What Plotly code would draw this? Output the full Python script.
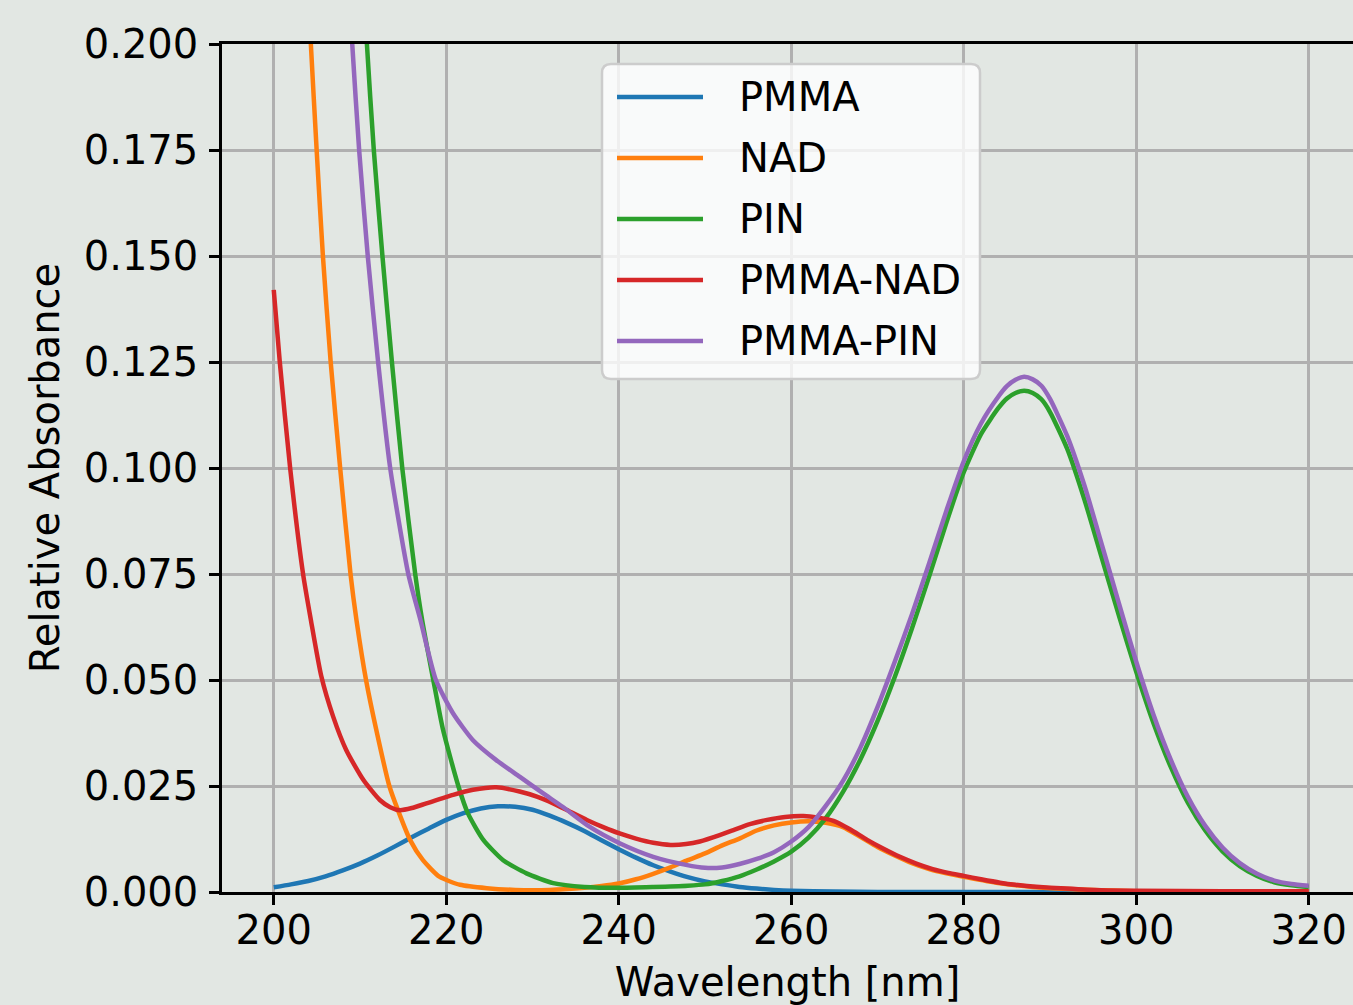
import plotly.graph_objects as go

# ---------------- data ----------------
series_names = ["PMMA", "NAD", "PIN", "PMMA-NAD", "PMMA-PIN"]
series_colors = ["#1f77b4", "#ff7f0e", "#2ca02c", "#d62728", "#9467bd"]

wl_pmma = [200, 202, 204, 206, 208, 210, 212, 214, 216, 218, 220, 222, 224, 226, 228, 230,
           232, 234, 236, 238, 240, 242, 244, 246, 248, 250, 252, 254, 256, 258, 260,
           265, 270, 280, 290, 300, 310, 320]
abs_pmma = [0.0011, 0.0018, 0.0026, 0.0037, 0.0051, 0.0067, 0.0086, 0.0107, 0.0129, 0.0150,
            0.0170, 0.0186, 0.0197, 0.0202, 0.0201, 0.0194, 0.0180, 0.0163, 0.0144, 0.0122,
            0.0101, 0.0081, 0.0063, 0.0048, 0.0035, 0.0025, 0.0018, 0.0012, 0.0008, 0.0005,
            0.0003, 0.0001, 0.0, 0.0, 0.0, 0.0, 0.0, 0.0]

wl_nad = [202.5, 203.5, 204.3, 205.0, 205.7, 206.6, 207.7, 208.9, 209.6, 210.7,
          212.0, 213.4, 214.4, 215.8, 217.3, 219.2, 221.6, 224.7, 228, 232,
          236, 238, 240, 242, 244, 246, 248, 250, 252, 254,
          256, 258, 260, 262, 264, 266, 268, 270, 272, 274,
          276, 278, 280, 284, 288, 292, 296, 300, 310, 320]
abs_nad = [0.29, 0.232, 0.200, 0.174, 0.150, 0.125, 0.100, 0.075, 0.064, 0.050,
           0.0372, 0.025, 0.0193, 0.0123, 0.0075, 0.0036, 0.0017, 0.0009, 0.0005, 0.0005,
           0.0010, 0.0014, 0.0020, 0.0030, 0.0043, 0.0058, 0.0075, 0.0091, 0.0110, 0.0126,
           0.0145, 0.0157, 0.0164, 0.0167, 0.0163, 0.0153, 0.0130, 0.0106, 0.0086, 0.0068,
           0.0054, 0.0044, 0.0036, 0.0021, 0.0012, 0.0007, 0.0004, 0.0002, 0.0001, 0.0]

wl_pin = [210.2, 210.8, 211.6, 212.6, 213.7, 214.9, 216.4, 217.2, 218.5, 219.6,
          221.4, 222.5, 224.3, 226.6, 229.3, 232.4, 236, 240, 244, 248,
          250, 252, 254, 256, 258, 260, 262, 264, 266, 268,
          270, 272, 274, 276, 278, 280, 282, 284, 285, 286,
          287, 288, 289, 290, 292, 294, 296, 298, 300, 302,
          304, 306, 308, 310, 312, 314, 316, 318, 320]
abs_pin = [0.225, 0.200, 0.175, 0.150, 0.125, 0.100, 0.075, 0.0642, 0.050, 0.0385,
           0.025, 0.0186, 0.0123, 0.0075, 0.0044, 0.0021, 0.0012, 0.0010, 0.0012, 0.0015,
           0.0018, 0.0026, 0.0037, 0.0053, 0.0072, 0.0095, 0.0128, 0.0174, 0.0236, 0.0312,
           0.0403, 0.0507, 0.0622, 0.0745, 0.0872, 0.0990, 0.1080, 0.1141, 0.1164, 0.1177,
           0.1182, 0.1177, 0.1162, 0.1132, 0.1045, 0.0925, 0.0788, 0.0651, 0.0519, 0.0398,
           0.0295, 0.0210, 0.0145, 0.0096, 0.0061, 0.0038, 0.0023, 0.0016, 0.0012]

wl_pmma_nad = [200, 200.7, 201.9, 203.4, 204.3, 205.5, 206.9, 208.4, 210.4, 212.3,
               213.5, 214.6, 216.0, 217.7, 220.8, 223.1, 225.8, 228.5, 230.5, 232.4,
               234.3, 236.3, 238.2, 240.1, 242, 244, 246, 247.8, 249.4, 251.7,
               253.3, 255.2, 257.2, 259.3, 261.4, 263, 264.9, 266.8, 268.8, 270.7,
               272.6, 274.5, 276.4, 278.2, 280, 282, 284.2, 286, 288, 291.9,
               295.8, 300, 310, 320]
abs_pmma_nad = [0.142, 0.125, 0.100, 0.075, 0.0642, 0.051, 0.0413, 0.0335, 0.0264, 0.0217,
                0.0200, 0.0193, 0.0198, 0.0209, 0.0229, 0.0241, 0.0247, 0.0237, 0.0225, 0.0209,
                0.0190, 0.0170, 0.0153, 0.0138, 0.0126, 0.0116, 0.0111, 0.0113, 0.0119, 0.0134,
                0.0146, 0.0160, 0.0170, 0.0177, 0.0179, 0.0176, 0.0168, 0.0148, 0.0123, 0.0102,
                0.0083, 0.0067, 0.0054, 0.0045, 0.0038, 0.0030, 0.0022, 0.0017, 0.0013, 0.0008,
                0.0004, 0.0003, 0.0002, 0.0002]

wl_pmma_pin = [208.4, 209.1, 209.9, 210.9, 212.1, 213.5, 215.6, 217.0, 218.8, 220.8,
               223.1, 225.8, 228.5, 231.2, 233.5, 236.6, 240.1, 244.0, 247.8, 250,
               252, 254, 256, 258, 260, 262, 264, 266, 268, 270,
               272, 274, 276, 278, 280, 282, 284, 285, 286, 287,
               288, 289, 290, 292, 294, 296, 298, 300, 302, 304,
               306, 308, 310, 312, 314, 316, 318, 320]
abs_pmma_pin = [0.225, 0.200, 0.175, 0.150, 0.125, 0.100, 0.075, 0.0642, 0.050, 0.0421,
                0.0358, 0.0311, 0.0272, 0.0233, 0.0201, 0.0154, 0.0115, 0.0083, 0.0064, 0.0057,
                0.0058, 0.0066, 0.0078, 0.0094, 0.0119, 0.0153, 0.0203, 0.0262, 0.0340, 0.0436,
                0.0543, 0.0655, 0.0776, 0.0900, 0.1016, 0.1105, 0.1168, 0.1193, 0.1208, 0.1215,
                0.1209, 0.1194, 0.1163, 0.1075, 0.0958, 0.0820, 0.0680, 0.0543, 0.0418, 0.0312,
                0.0224, 0.0156, 0.0105, 0.0068, 0.0043, 0.0027, 0.0019, 0.0015]

x_ticks = [200, 220, 240, 260, 280, 300, 320]
y_ticks = [0.0, 0.025, 0.05, 0.075, 0.1, 0.125, 0.15, 0.175, 0.2]
y_tick_text = ["0.000", "0.025", "0.050", "0.075", "0.100", "0.125", "0.150", "0.175", "0.200"]

x_title = "Wavelength [nm]"
y_title = "Relative Absorbance"

# ---------------- figure ----------------
W, H = 1353, 1005
ML, MR, MT, MB = 222, 0, 44, 113
BG = "#e2e7e3"
FONT = "DejaVu Sans"

xs = [wl_pmma, wl_nad, wl_pin, wl_pmma_nad, wl_pmma_pin]
ys = [abs_pmma, abs_nad, abs_pin, abs_pmma_nad, abs_pmma_pin]

fig = go.Figure()
for name, col, x, y in zip(series_names, series_colors, xs, ys):
    fig.add_trace(go.Scatter(x=x, y=y, mode="lines", name=name,
                             line=dict(color=col, width=4.5, shape="spline", smoothing=0.6),
                             showlegend=False))

axis_common = dict(
    showgrid=True, gridcolor="#b0b0b0", gridwidth=2.5,
    showline=True, linecolor="black", linewidth=2.5,
    ticks="outside", ticklen=10, tickwidth=2.5, tickcolor="black",
    zeroline=False, tickfont=dict(family=FONT, size=40, color="black"),
)

fig.update_layout(
    width=W, height=H,
    margin=dict(l=ML, r=MR, t=MT, b=MB, autoexpand=False),
    paper_bgcolor=BG, plot_bgcolor=BG,
    font=dict(family=FONT, size=40, color="black"),
    showlegend=False,
    xaxis=dict(range=[194, 325.13], tickvals=x_ticks, mirror=True, ticklabelstandoff=-9,
               title=dict(text=x_title, font=dict(family=FONT, size=40), standoff=27),
               **axis_common),
    yaxis=dict(range=[0, 0.2], tickvals=y_ticks, ticktext=y_tick_text, mirror=False,
               ticklabelstandoff=3,
               title=dict(text=y_title, font=dict(family=FONT, size=40), standoff=12),
               **axis_common),
)

# ---------------- legend (matplotlib style, drawn in paper coordinates) ----------------
PW, PH = W - ML - MR, H - MT - MB


def px_to_paper(px, py):
    return (px - ML) / PW, (H - MB - py) / PH


bx0, by0 = px_to_paper(602, 379)
bx1, by1 = px_to_paper(980, 64)
rx, ry = 9 / PW, 9 / PH
path = (f"M {bx0+rx},{by0} L {bx1-rx},{by0} Q {bx1},{by0} {bx1},{by0+ry} "
        f"L {bx1},{by1-ry} Q {bx1},{by1} {bx1-rx},{by1} L {bx0+rx},{by1} "
        f"Q {bx0},{by1} {bx0},{by1-ry} L {bx0},{by0+ry} Q {bx0},{by0} {bx0+rx},{by0} Z")
fig.add_shape(type="path", path=path, xref="paper", yref="paper",
              fillcolor="rgba(255,255,255,0.8)", line=dict(color="#cccccc", width=2.5),
              layer="above")

row_py = [97, 158, 219, 280, 341]
for name, col, rpy in zip(series_names, series_colors, row_py):
    lx0, ly = px_to_paper(617, rpy)
    lx1, _ = px_to_paper(703, rpy)
    tx, _ = px_to_paper(737, rpy)
    fig.add_shape(type="line", xref="paper", yref="paper", x0=lx0, x1=lx1, y0=ly, y1=ly,
                  line=dict(color=col, width=4.5), layer="above")
    fig.add_annotation(text=name, xref="paper", yref="paper", x=tx, y=ly,
                       xanchor="left", yanchor="middle", showarrow=False,
                       font=dict(family=FONT, size=40, color="black"))

fig.write_html("out.html",
               config={"displayModeBar": False},
               post_script="document.body.style.margin='0';"
                           "document.body.style.background='" + BG + "';"
                           "document.body.style.overflow='hidden';")
